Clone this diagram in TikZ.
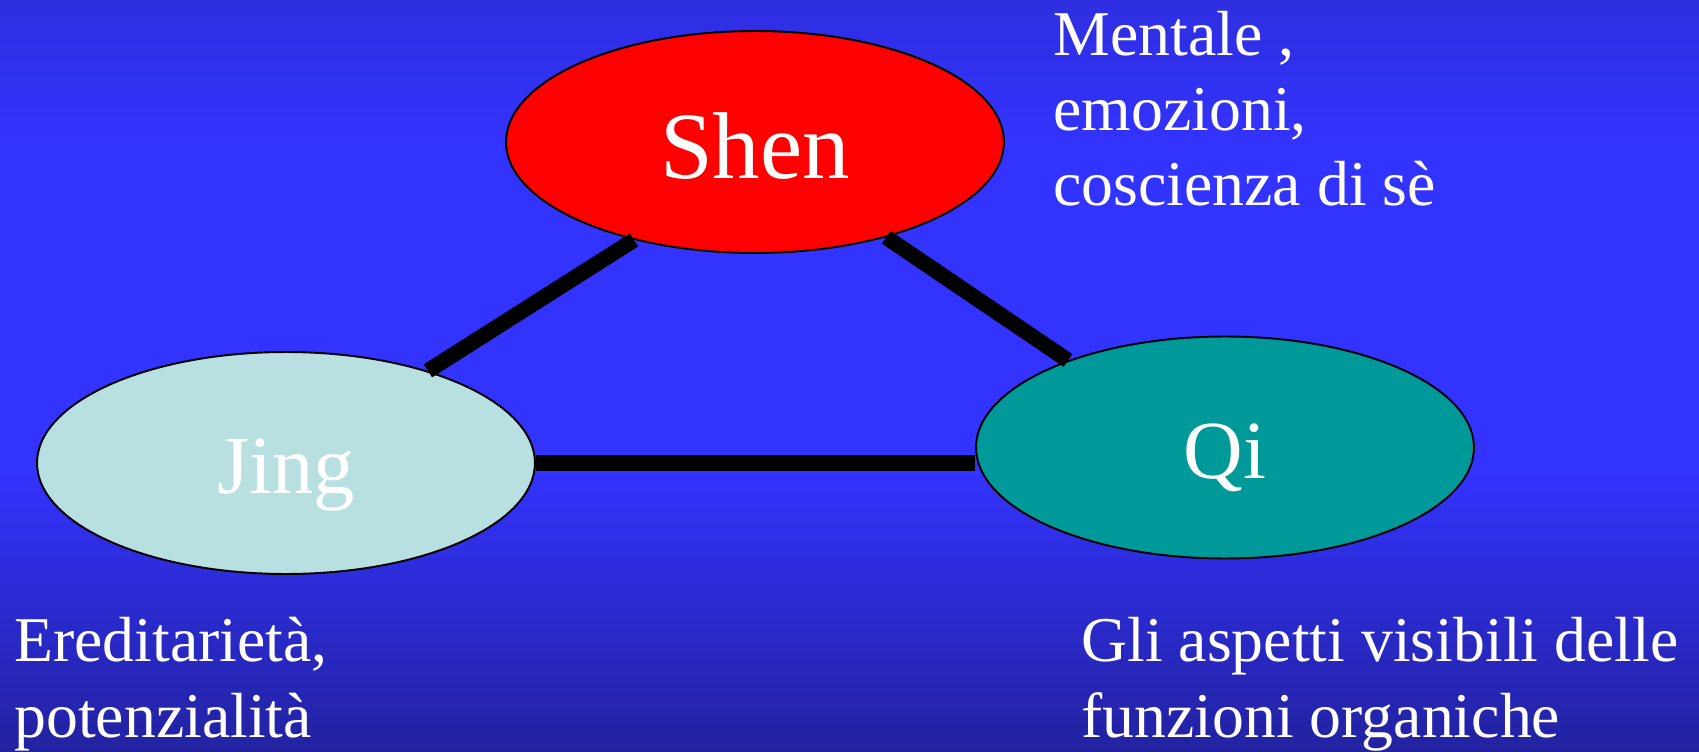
\documentclass[tikz,border=0pt]{standalone}
\usepackage{fontspec}
\setmainfont{Liberation Serif}
\usetikzlibrary{shapes.geometric}

\definecolor{bgtop}{HTML}{2E2EE0}
\definecolor{bgmid}{HTML}{3333FF}
\definecolor{bgbot}{HTML}{2222A0}
\definecolor{jingcol}{HTML}{B9E0E0}
\definecolor{qicol}{HTML}{009999}

% slide background, dark at top and bottom
\pgfdeclareverticalshading{slidebg}{100bp}{color(0bp)=(bgbot); color(25bp)=(bgbot); color(44bp)=(bgmid); color(65bp)=(bgmid); color(75bp)=(bgtop); color(100bp)=(bgtop)}

\begin{document}
\begin{tikzpicture}[x=0.02cm,y=0.02cm, spirit/.style={ellipse,draw=black,line width=1.1pt,minimum width=9.96cm,minimum height=4.44cm,inner sep=0pt,text=white,text height=35pt,text depth=0pt,font=\fontsize{47}{56}\selectfont}, link/.style={line width=8.8pt}, note/.style={text=white,align=left,anchor=base west,inner sep=0pt,font=\fontsize{36.3}{42.7}\selectfont}]

\shade[shading=slidebg] (0,0) rectangle (1699,751);
\useasboundingbox (0,0) rectangle (1699,751);

\node[spirit,fill=red,text height=42pt,font=\fontsize{54}{60}\selectfont] (shen) at (755,609) {Shen};
\node[spirit,fill=jingcol] (jing) at (286,288) {Jing};
\node[spirit,fill=qicol] (qi) at (1225,303.5) {Qi};

\draw[link] (shen.219) -- (jing.33);
\draw[link] (shen.324) -- (qi.151);
\draw[link] (jing.east) -- (jing.east -| qi.west);

% base anchor sits on the last line
\node[note] (shennote) at (1053,545) {Mentale ,\\emozioni,\\coscienza di sè};
\node[note] (jingnote) at (14,14) {Ereditarietà,\\potenzialità};
\node[note] (qinote) at (1081,14) {Gli aspetti visibili delle\\funzioni organiche};

\end{tikzpicture}
\end{document}
